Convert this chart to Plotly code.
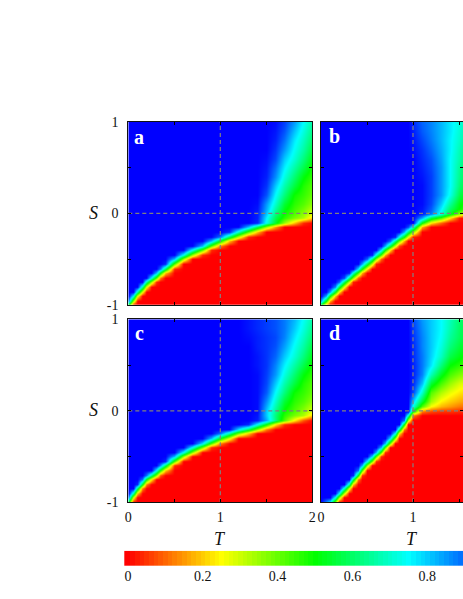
import numpy as np
import plotly.graph_objects as go

W, H = 463, 599

# grid of the four maps, values typed per T column from S=-1 upward
# S is finer where the sharp boundary runs, coarser in the smooth top part
s_vals = [-1.0, -0.95, -0.9, -0.85, -0.8, -0.75, -0.7, -0.65, -0.6, -0.55, -0.5, -0.45,
          -0.4, -0.35, -0.3, -0.25, -0.2, -0.15, -0.1, -0.05, 0.0, 0.05, 0.1,
          0.2, 0.3, 0.4, 0.5, 0.6, 0.7, 0.8, 0.9, 1.0]

a_t = [0, .05, .1, .15, .2, .25, .3, .35, .4, .5, .6, .7, .8, .9, 1.0,
       1.1, 1.2, 1.3, 1.4, 1.5, 1.6, 1.7, 1.8, 1.9, 2.0]
a_cols = [
    [.5, .88] + [1]*30,
    [0, .35, .73] + [1]*29,
    [0, 0, .27, .65] + [1]*28,
    [0]*3 + [.27, .65] + [1]*27,
    [0]*4 + [.27, .65] + [1]*26,
    [0]*5 + [.35, .73] + [1]*25,
    [0]*5 + [.04, .42, .81] + [1]*24,
    [0]*6 + [.12, .5, .88] + [1]*23,
    [0]*7 + [.19, .58, .96] + [1]*22,
    [0]*8 + [.04, .42, .81] + [1]*21,
    [0]*10 + [.35, .73] + [1]*20,
    [0]*11 + [.35, .73] + [1]*19,
    [0]*11 + [.04, .42, .81] + [1]*18,
    [0]*12 + [.04, .42, .81] + [1]*17,
    [0]*13 + [.12, .5, .88] + [1]*16,
    [0]*14 + [.19, .58, .96] + [1]*15,
    [0]*15 + [.31, .69] + [1]*15,
    [0]*15 + [.04, .42, .81] + [1]*14,
    [0]*16 + [.19, .58, .96, .97, .97, .98, .99] + [1]*9,
    [0]*17 + [.35, .73, .76, .80, .83, .85, .92, .95, .97, .98, .99, 1, 1, 1, 1],
    [0]*17 + [.15, .54, .58, .62, .66, .70, .75, .80, .86, .89, .93, .95, .97, .98, .99],
    [0]*18 + [.35, .46, .49, .52, .55, .62, .67, .72, .76, .80, .85, .89, .92, .94],
    [0]*18 + [.19, .38, .42, .44, .46, .49, .56, .61, .66, .71, .74, .77, .81, .85],
    [0]*18 + [.04, .33, .36, .39, .42, .45, .47, .51, .57, .62, .66, .69, .72, .75],
    [0]*19 + [.20, .28, .32, .36, .40, .42, .45, .48, .52, .56, .60, .63, .66],
]

# b and d run off the window, so only T up to 1.6 is kept
b_t = [0, .05, .1, .15, .2, .25, .3, .35, .4, .45, .5, .55, .6, .65, .7, .75, .8, .85, .9, .95, 1.0,
       1.1, 1.2, 1.3, 1.4, 1.5, 1.6]
b_cols = [
    [.5, .83] + [1]*30,
    [.17, .5, .83] + [1]*29,
    [0, .17, .5, .83] + [1]*28,
    [0, 0, .2, .53, .87] + [1]*27,
    [0]*3 + [.23, .57, .9] + [1]*26,
    [0]*4 + [.27, .6, .93] + [1]*25,
    [0]*5 + [.3, .63, .97] + [1]*24,
    [0]*5 + [.03, .37, .7] + [1]*24,
    [0]*6 + [.1, .43, .77] + [1]*23,
    [0]*7 + [.17, .5, .83] + [1]*22,
    [0]*8 + [.23, .57, .9] + [1]*21,
    [0]*9 + [.3, .63, .97] + [1]*20,
    [0]*9 + [.03, .37, .7] + [1]*20,
    [0]*10 + [.1, .43, .77] + [1]*19,
    [0]*11 + [.17, .5, .83] + [1]*18,
    [0]*12 + [.23, .57, .9] + [1]*17,
    [0]*13 + [.3, .63, .97] + [1]*16,
    [0]*13 + [.07, .4, .73] + [1]*16,
    [0]*14 + [.17, .5, .83] + [1]*15,
    [0]*15 + [.27, .6, .93] + [1]*14,
    [0]*15 + [.03, .37, .7] + [1]*10 + [.99, .98, .97, .96],
    [0]*17 + [.17, .5, .83, .97, .98, .99, .99, .99, .98, .97, .96, .95, .93, .91, .90],
    [0]*18 + [.23, .57, .88, .91, .93, .94, .94, .94, .93, .92, .90, .88, .87, .87],
    [0]*18 + [.10, .43, .72, .76, .80, .85, .85, .85, .85, .84, .83, .82, .82, .82],
    [0]*19 + [.23, .54, .60, .65, .73, .75, .75, .75, .75, .76, .76, .77, .77],
    [0]*19 + [.03, .37, .50, .52, .58, .62, .64, .65, .67, .68, .70, .71, .72],
    [0]*20 + [.23, .43, .46, .50, .53, .55, .56, .58, .60, .62, .64, .66],
]

c_t = a_t
c_cols = [
    [.5, .88] + [1]*30,
    [0, .27, .65] + [1]*29,
    [0, 0, .19, .58, .96] + [1]*27,
    [0]*3 + [.12, .5, .88] + [1]*26,
    [0]*4 + [.12, .5, .88] + [1]*25,
    [0]*5 + [.23, .62] + [1]*25,
    [0]*6 + [.35, .73] + [1]*24,
    [0]*6 + [.08, .46, .85] + [1]*23,
    [0]*7 + [.19, .58, .96] + [1]*22,
    [0]*8 + [.04, .42, .81] + [1]*21,
    [0]*10 + [.35, .73] + [1]*20,
    [0]*11 + [.35, .73] + [1]*19,
    [0]*12 + [.38, .77] + [1]*18,
    [0]*12 + [.04, .42, .81] + [1]*17,
    [0]*13 + [.12, .5, .88] + [1]*16,
    [0]*14 + [.27, .65] + [1]*16,
    [0]*15 + [.38, .77] + [1]*15,
    [0]*15 + [.19, .58, .96] + [1]*11 + [.99, .98, .98],
    [0]*16 + [.35, .73, .97, .98, .99, .99, .99, .99, .99, .99, .98, .98, .97, .97, .96, .96],
    [0]*16 + [.12, .5, .83, .80, .80, .83, .86, .91, .93, .94, .95, .95, .95, .95, .94, .94],
    [0]*17 + [.23, .62, .62, .64, .67, .70, .75, .80, .85, .87, .90, .92, .93, .92, .92],
    [0]*17 + [.04, .42, .46, .49, .52, .55, .62, .67, .72, .76, .80, .84, .87, .88, .88],
    [0]*18 + [.23, .38, .42, .44, .46, .49, .56, .61, .66, .71, .74, .77, .80, .82],
    [0]*18 + [.08, .33, .36, .39, .42, .45, .47, .51, .57, .62, .66, .69, .72, .74],
    [0]*19 + [.20, .28, .32, .36, .40, .42, .45, .48, .52, .56, .60, .63, .66],
]

d_t = [0, .1, .15, .2, .25, .3, .35, .4, .45, .5, .55, .6, .65, .7, .75, .8, .85, .9, .95, 1.0,
       1.1, 1.2, 1.3, 1.4, 1.5, 1.6]
d_cols = [
    [1]*32,
    [.73] + [1]*31,
    [.35, .73] + [1]*30,
    [0, .35, .73] + [1]*29,
    [0, 0, .31, .69] + [1]*28,
    [0]*3 + [.27, .65] + [1]*27,
    [0]*4 + [.19, .58, .96] + [1]*25,
    [0]*5 + [.12, .5, .88] + [1]*24,
    [0]*6 + [.04, .42, .81] + [1]*23,
    [0]*8 + [.35, .73] + [1]*22,
    [0]*9 + [.38, .77] + [1]*21,
    [0]*9 + [.04, .42, .81] + [1]*20,
    [0]*10 + [.04, .42, .81] + [1]*19,
    [0]*11 + [.04, .42, .81] + [1]*18,
    [0]*13 + [.38, .77] + [1]*17,
    [0]*14 + [.35, .73] + [1]*16,
    [0]*15 + [.23, .62] + [1]*15,
    [0]*16 + [.12, .5, .88] + [1]*13,
    [0]*18 + [.31, .69] + [1]*12,
    [0]*19 + [.12, .5, .72, .80, .93, .96, .97, .97, .96, .96, .95, .94, .93],
    [0]*20 + [.12, .42, .55, .70, .81, .87, .88, .88, .87, .87, .86, .85],
    [0]*20 + [.07, .25, .34, .42, .55, .68, .77, .79, .80, .80, .80, .80],
    [0]*20 + [.05, .18, .24, .33, .43, .53, .62, .69, .72, .74, .75, .75],
    [0]*20 + [.05, .15, .20, .27, .35, .43, .50, .57, .62, .65, .67, .68],
    [0]*20 + [.04, .12, .17, .23, .29, .38, .46, .52, .56, .59, .60, .61],
    [0]*20 + [.04, .10, .15, .21, .27, .35, .42, .47, .51, .54, .55, .56],
]

# colour key, one step per block in the bar
bar_levels = [-.0125, 0, .0125, .025, .0375, .05, .0625, .075, .0875, .1, .1125, .125,
              .1375, .15, .1625, .175, .1875, .2, .2125, .225, .2375, .25, .2625, .275,
              .2875, .3, .3125, .325, .3375, .35, .3625, .375, .3875, .4, .4125, .425,
              .4375, .45, .4625, .475, .4875, .5, .5125, .525, .5375, .55, .5625, .575,
              .5875, .6, .6125, .625, .6375, .65, .6625, .675, .6875, .7, .7125, .725,
              .7375, .75, .7625, .775, .7875, .8, .8125, .825, .8375, .85, .8625, .875,
              .8875, .9, .9125]
bar_ticks = [0, 0.2, 0.4, 0.6, 0.8]
bar_tick_text = ['0', '0.2', '0.4', '0.6', '0.8']

t_ticks = [0, 0.5, 1, 1.5, 2]
t_tick_text = ['0', '', '1', '', '2']
s_ticks = [-1, -0.5, 0, 0.5, 1]
s_tick_text = ['-1', '', '0', '', '1']

rainbow = [[0, '#ff0000'], [.25, '#ffff00'], [.5, '#00ff00'], [.75, '#00ffff'], [1, '#0000ff']]
serif = 'Liberation Serif'

# pixel boxes of the panels: left, right, top, bottom (b and d are cut by the window)
panels = [
    ('a', a_t, a_cols, 128.3, 312.3, 121.7, 305.0, False, True),
    ('b', b_t, b_cols, 321.0, 505.0, 121.7, 305.0, False, False),
    ('c', c_t, c_cols, 128.3, 312.3, 319.3, 502.3, True, True),
    ('d', d_t, d_cols, 321.0, 505.0, 319.3, 502.3, True, False),
]

fig = go.Figure()
layout = {}

for i, (name, t_vals, cols, x0, x1, y0, y1, show_x, show_y) in enumerate(panels):
    ax = '' if i == 0 else str(i + 1)
    z = np.array(cols).T
    fig.add_trace(go.Heatmap(x=t_vals, y=s_vals, z=z, zmin=0, zmax=1,
                             colorscale=rainbow, zsmooth='best', showscale=False,
                             xaxis='x' + ax, yaxis='y' + ax))
    # dashed guide lines at T=1 and S=0
    fig.add_trace(go.Scatter(x=[1, 1], y=[-1, 1], mode='lines', showlegend=False,
                             line=dict(color='#808080', width=1.2, dash='4px,3px'),
                             xaxis='x' + ax, yaxis='y' + ax))
    fig.add_trace(go.Scatter(x=[0, 2], y=[0, 0], mode='lines', showlegend=False,
                             line=dict(color='#808080', width=1.2, dash='4px,3px'),
                             xaxis='x' + ax, yaxis='y' + ax))
    right = min(x1, W)
    t_end = 2 * (right - x0) / (x1 - x0)
    layout['xaxis' + ax] = dict(
        domain=[x0 / W, right / W], range=[0, t_end], anchor='y' + ax,
        tickmode='array', tickvals=t_ticks, ticktext=t_tick_text if show_x else [''] * 5,
        ticks='inside', ticklen=3, tickwidth=1, tickcolor='black', mirror='ticks',
        showline=True, linecolor='#111111', linewidth=1, showgrid=False, zeroline=False,
        ticklabelstandoff=2, tickfont=dict(family=serif, size=14, color='#111111'))
    layout['yaxis' + ax] = dict(
        domain=[1 - y1 / H, 1 - y0 / H], range=[-1, 1], anchor='x' + ax,
        tickmode='array', tickvals=s_ticks, ticktext=s_tick_text if show_y else [''] * 5,
        ticks='inside', ticklen=3, tickwidth=1, tickcolor='black', mirror='ticks',
        showline=True, linecolor='#111111', linewidth=1, showgrid=False, zeroline=False,
        ticklabelstandoff=6, tickfont=dict(family=serif, size=14, color='#111111'))

# colour key on its own axes, value 0 sits at x=128 and 0.2 is 74.8 px further on
bar_left = 124.3
px_per_unit = 374.0
fig.add_trace(go.Heatmap(x=bar_levels, y=[0], z=[bar_levels], zmin=0, zmax=1,
                         colorscale=rainbow, showscale=False, xaxis='x5', yaxis='y5'))
layout['xaxis5'] = dict(
    domain=[bar_left / W, 1], range=[(bar_left - 128) / px_per_unit, (W - 128) / px_per_unit],
    anchor='y5', tickmode='array', tickvals=bar_ticks, ticktext=bar_tick_text,
    ticks='', showline=False, showgrid=False, zeroline=False,
    ticklabelstandoff=0, tickfont=dict(family=serif, size=14, color='#111111'))
layout['yaxis5'] = dict(domain=[1 - 566 / H, 1 - 550.7 / H], range=[-0.5, 0.5], anchor='x5',
                        visible=False)

notes = []
for text, px, py in [('a', 138.7, 136.5), ('b', 334.5, 135.5), ('c', 139.3, 332.5), ('d', 334.5, 332.5)]:
    notes.append(dict(text='<b>%s</b>' % text, x=px / W, y=1 - py / H, xref='paper', yref='paper',
                      showarrow=False, xanchor='center', yanchor='middle',
                      font=dict(family=serif, size=20, color='white')))
for text, px, py in [('S', 93, 213), ('S', 93, 410), ('T', 220, 539), ('T', 412, 539)]:
    notes.append(dict(text='<i>%s</i>' % text, x=px / W, y=1 - py / H, xref='paper', yref='paper',
                      showarrow=False, xanchor='center', yanchor='middle',
                      font=dict(family=serif, size=18, color='#111111')))

fig.update_layout(width=W, height=H, margin=dict(l=0, r=0, t=0, b=0, pad=0, autoexpand=False),
                  paper_bgcolor='white', plot_bgcolor='white', showlegend=False,
                  annotations=notes, **layout)

# the page's default body margin would push the figure 8px in
fig.write_html("out.html", config={'displayModeBar': False},
               post_script="document.body.style.margin='0';document.body.style.overflow='hidden';")
